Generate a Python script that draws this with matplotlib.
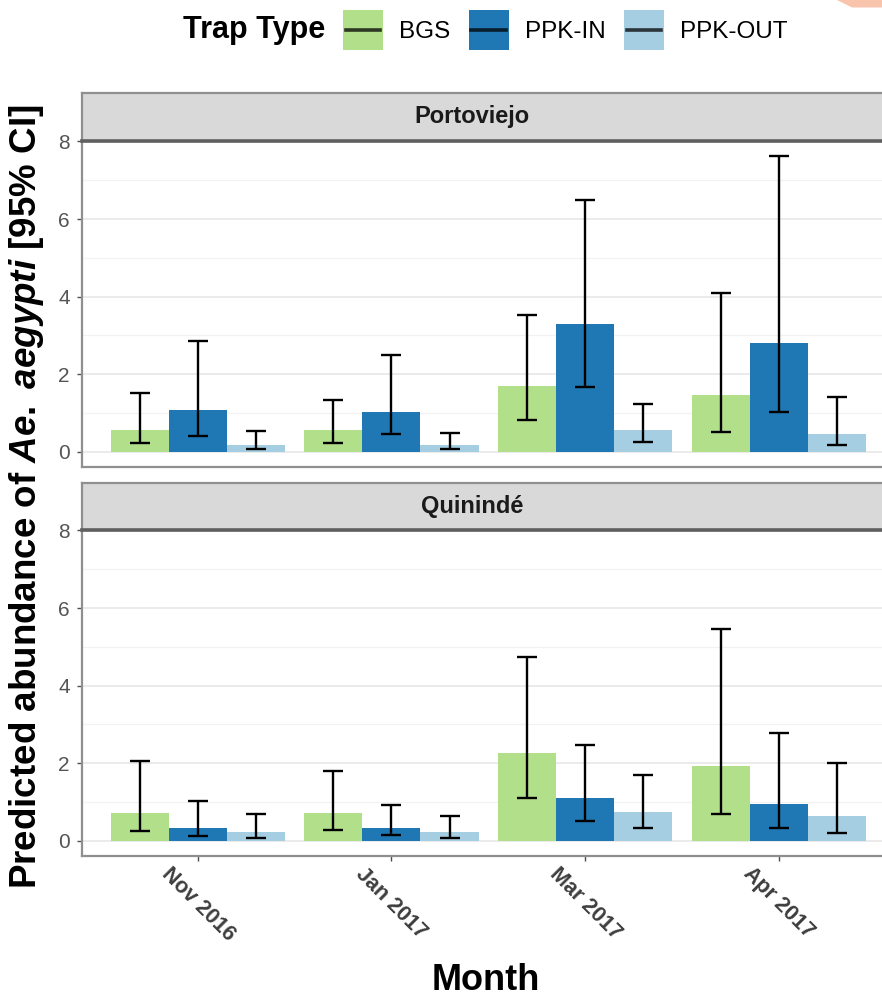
import matplotlib
matplotlib.use("Agg")
import matplotlib.pyplot as plt
import numpy as np
from matplotlib.patches import Patch, Polygon, Rectangle
from matplotlib.lines import Line2D

plt.rcParams['font.family'] = ['Liberation Sans', 'DejaVu Sans']
plt.rcParams['mathtext.fontset'] = 'custom'
plt.rcParams['mathtext.rm'] = 'Liberation Sans:bold'
plt.rcParams['mathtext.bf'] = 'Liberation Sans:bold'
plt.rcParams['mathtext.it'] = 'Liberation Sans:italic:bold'

# ---------------- data ----------------
months = ["Nov 2016", "Jan 2017", "Mar 2017", "Apr 2017"]
trap_types = ["BGS", "PPK-IN", "PPK-OUT"]
sites = ["Portoviejo", "Quinindé"]
trap_colors = ["#b2df8a", "#1f78b4", "#a6cee3"]

# Portoviejo
porto_bgs = [0.56, 0.56, 1.71, 1.47]
porto_bgs_lo = [0.22, 0.24, 0.83, 0.52]
porto_bgs_hi = [1.51, 1.35, 3.54, 4.10]
porto_in = [1.08, 1.03, 3.29, 2.81]
porto_in_lo = [0.40, 0.46, 1.67, 1.03]
porto_in_hi = [2.86, 2.49, 6.49, 7.63]
porto_out = [0.17, 0.17, 0.56, 0.45]
porto_out_lo = [0.07, 0.07, 0.26, 0.17]
porto_out_hi = [0.54, 0.48, 1.23, 1.42]

# Quinindé
quin_bgs = [0.71, 0.71, 2.26, 1.93]
quin_bgs_lo = [0.26, 0.29, 1.10, 0.70]
quin_bgs_hi = [2.07, 1.80, 4.74, 5.46]
quin_in = [0.33, 0.33, 1.10, 0.95]
quin_in_lo = [0.13, 0.14, 0.50, 0.33]
quin_in_hi = [1.03, 0.92, 2.47, 2.77]
quin_out = [0.24, 0.24, 0.75, 0.63]
quin_out_lo = [0.08, 0.08, 0.34, 0.21]
quin_out_hi = [0.70, 0.64, 1.70, 2.01]

y_ticks = [0, 2, 4, 6, 8]

panels = {
    "Portoviejo": [(porto_bgs, porto_bgs_lo, porto_bgs_hi),
                   (porto_in, porto_in_lo, porto_in_hi),
                   (porto_out, porto_out_lo, porto_out_hi)],
    "Quinindé": [(quin_bgs, quin_bgs_lo, quin_bgs_hi),
                 (quin_in, quin_in_lo, quin_in_hi),
                 (quin_out, quin_out_lo, quin_out_hi)],
}

all_hi = porto_bgs_hi + porto_in_hi + porto_out_hi + quin_bgs_hi + quin_in_hi + quin_out_hi
ymax = max(all_hi)
ylim = (-0.05 * ymax, ymax * 1.05)

# ---------------- figure ----------------
W, H = 882, 1001
fig = plt.figure(figsize=(W / 100, H / 100), dpi=100)

def fx(px):
    return px / W

def fy(py):
    return 1 - py / H

left_px, right_px = 81.7, 894.8
panel_boxes = [(141.0, 466.7), (530.0, 855.7)]
strip_boxes = [(92.7, 141.0), (482.7, 530.0)]

n = len(months)
x = np.arange(1, n + 1)
bw = 0.3
offsets = [-bw, 0, bw]
border_col = "#8f8f8f"

for i, site in enumerate(sites):
    top, bot = panel_boxes[i]
    ax = fig.add_axes([fx(left_px), fy(bot), fx(right_px - left_px), (bot - top) / H])
    ax.set_xlim(0.4, n + 0.6)
    ax.set_ylim(*ylim)
    ax.set_yticks(y_ticks)
    ax.set_yticks([1, 3, 5, 7], minor=True)
    ax.grid(True, which='major', axis='y', color='#ebebeb', lw=1.4, zorder=0)
    ax.grid(True, which='minor', axis='y', color='#f2f2f2', lw=0.9, zorder=0)
    ax.set_axisbelow(True)
    for sp in ax.spines.values():
        sp.set_color(border_col)
        sp.set_linewidth(1.6)
    for j, (vals, lo, hi) in enumerate(panels[site]):
        vals = np.array(vals); lo = np.array(lo); hi = np.array(hi)
        ax.bar(x + offsets[j], vals, width=bw, color=trap_colors[j], zorder=2)
        ax.errorbar(x + offsets[j], vals, yerr=[vals - lo, hi - vals], fmt='none',
                    ecolor='black', elinewidth=1.7, capsize=7, capthick=1.7, zorder=3)
    ax.tick_params(axis='y', which='major', length=3.5, width=1, color='#4d4d4d',
                   labelsize=15, labelcolor='#555555', pad=5)
    ax.tick_params(axis='y', which='minor', length=0)
    ax.set_xticks(x)
    if i == len(sites) - 1:
        ax.set_xticklabels(months, rotation=-45, ha='center', va='top',
                           fontweight='bold', fontsize=15.5, color='#3d3d3d')
        ax.tick_params(axis='x', length=3.5, width=1, color='#4d4d4d', pad=2)
    else:
        ax.set_xticklabels([])
        ax.tick_params(axis='x', length=0)

    st, sb = strip_boxes[i]
    sax = fig.add_axes([fx(left_px), fy(sb), fx(right_px - left_px), (sb - st) / H])
    sax.set_facecolor('#d9d9d9')
    sax.set_xticks([]); sax.set_yticks([])
    for sp in sax.spines.values():
        sp.set_color(border_col)
        sp.set_linewidth(1.6)
    sax.spines['bottom'].set_color('#5f5f5f')
    sax.spines['bottom'].set_linewidth(2.6)
    sax.text(0.5 - 16 / (right_px - left_px), 0.5, site, transform=sax.transAxes,
             ha='center', va='center', fontsize=17, fontweight='bold', color='#1a1a1a')

# axis titles
fig.text(fx(27), fy(497), r"Predicted abundance of $\mathit{Ae.}$ $\mathit{aegypti}$ [95% CI]",
         rotation=90, ha='center', va='center', fontsize=26.5, fontweight='bold')
fig.text(fx(486), fy(980), "Month", ha='center', va='center', fontsize=26, fontweight='bold')


# legend: ggplot-style key (filled square with the errorbar glyph drawn across it)
class KeyHandler:
    def legend_artist(self, legend, orig_handle, fontsize, handlebox):
        x0, y0 = -handlebox.xdescent, -handlebox.ydescent
        w, h = handlebox.width, handlebox.height
        tr = handlebox.get_transform()
        rect = Rectangle((x0, y0), w, h, facecolor=orig_handle.get_facecolor(),
                         edgecolor='none', transform=tr)
        line = Line2D([x0 + 0.07 * w, x0 + 0.93 * w], [y0 + h / 2, y0 + h / 2],
                      color='black', alpha=0.75, lw=2.6, transform=tr)
        handlebox.add_artist(rect)
        handlebox.add_artist(line)
        return rect


fig.text(fx(183), fy(30), "Trap Type", ha='left', va='center', fontsize=22, fontweight='bold')
handles = [Patch(facecolor=c, edgecolor='none') for c in trap_colors]
fig.legend(handles, trap_types, handler_map={Patch: KeyHandler()},
           loc='center left', bbox_to_anchor=(fx(343), fy(30)), ncol=3, frameon=False,
           fontsize=17.5, handlelength=1.65, handleheight=2.1, handletextpad=0.66,
           columnspacing=0.75, borderpad=0, borderaxespad=0)

# decorative corner shape present in the reference image
fig.add_artist(Polygon([(fx(837), fy(0)), (fx(852), fy(7.5)), (fx(882), fy(7.5)), (fx(882), fy(0))],
                       closed=True, transform=fig.transFigure,
                       facecolor='#f9c4ac', edgecolor='none'))

fig.savefig("out.png", dpi=100)
